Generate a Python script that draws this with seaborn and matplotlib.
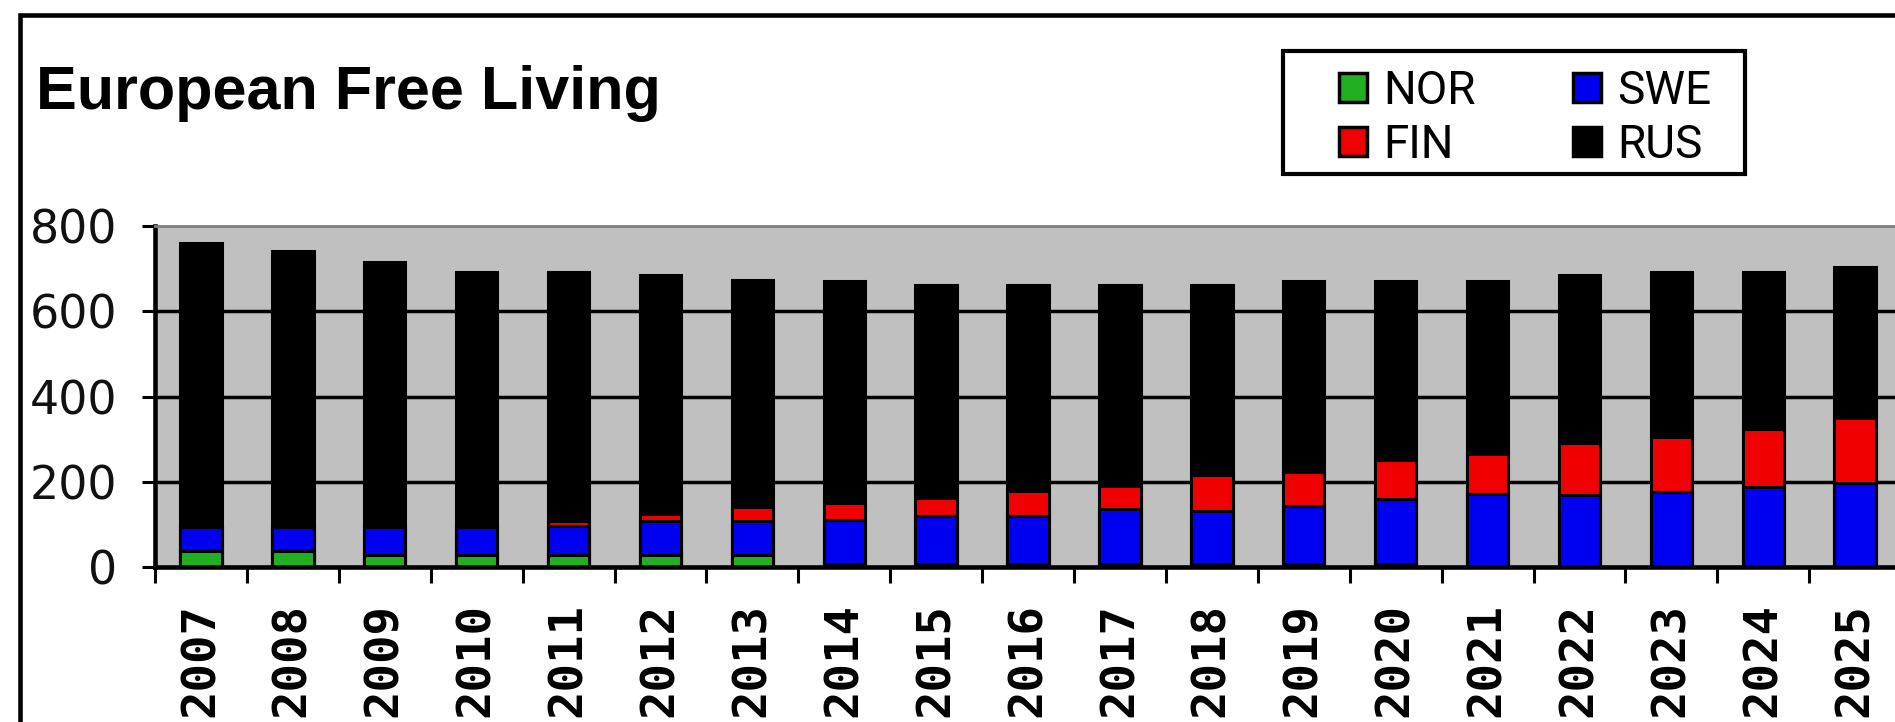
import numpy as np
import matplotlib
matplotlib.use("Agg")
import matplotlib.pyplot as plt
from matplotlib.patches import Patch, Rectangle
import seaborn as sns

# Population by country, stacked per year
years = [str(y) for y in range(2007, 2026)]
nor = [38, 38, 28, 28, 28, 28, 28, 6, 6, 6, 6, 6, 6, 6, 2, 2, 2, 2, 2]
swe = [56, 56, 66, 66, 69, 80, 80, 104, 113, 113, 130, 125, 136, 153, 169, 166, 173, 185, 195]
fin = [0, 0, 0, 0, 10, 16, 32, 41, 42, 59, 55, 84, 80, 91, 94, 124, 130, 136, 153]
rus = [666, 647, 622, 598, 585, 562, 534, 521, 500, 483, 470, 446, 450, 421, 406, 393, 387, 369, 354]

series_colors = {"NOR": "#22B022", "SWE": "#0000F0", "FIN": "#F00000", "RUS": "#000000"}
y_ticks = [0, 200, 400, 600, 800]

W, H = 1895, 722
fig = plt.figure(figsize=(W / 100, H / 100), dpi=100)
fig.patch.set_facecolor("white")

ax = fig.add_axes([155 / W, 1 - 567 / H, 19 * 91.9 / W, (567 - 226) / H])
ax.set_facecolor("#C0C0C0")

# Stacked bars drawn as overlapping cumulative totals, tallest first
cum_nor = np.array(nor)
cum_swe = cum_nor + np.array(swe)
cum_fin = cum_swe + np.array(fin)
cum_rus = cum_fin + np.array(rus)
layers = [("RUS", cum_rus), ("FIN", cum_fin), ("SWE", cum_swe), ("NOR", cum_nor)]
bar_w = 0.45
for name, vals in layers:
    sns.barplot(x=years, y=vals, order=years, color=series_colors[name], saturation=1,
                width=bar_w, edgecolor="black", linewidth=2.2, errorbar=None, ax=ax)

ax.set_xlim(-0.5, len(years) - 0.5)
ax.set_ylim(0, 800)
ax.set_xlabel("")
ax.set_ylabel("")

# Category ticks sit between bars; labels sit under bar centres
ax.set_xticks(np.arange(-0.5, len(years), 1.0))
ax.set_xticklabels([])
ax.set_xticks(np.arange(len(years)), minor=True)
ax.set_xticklabels(years, minor=True, rotation=90, fontfamily="DejaVu Sans Mono",
                   fontweight="bold", fontsize=34, color="black")
ax.tick_params(axis="x", which="major", length=11.5, width=2.2, direction="out", color="black")
ax.tick_params(axis="x", which="minor", length=0, pad=26)

ax.set_yticks(y_ticks)
ax.set_yticklabels([str(v) for v in y_ticks], fontfamily="DejaVu Sans", fontsize=33, color="#111111")
ax.tick_params(axis="y", length=9.4, width=2.2, pad=18, direction="out", color="black")

ax.set_axisbelow(True)
ax.yaxis.grid(True, color="black", linewidth=2.5)
ax.xaxis.grid(False)
for gl, v in zip(ax.get_ygridlines(), y_ticks):
    if v in (0, 800):
        gl.set_visible(False)

ax.spines["left"].set_color("black")
ax.spines["left"].set_linewidth(3.3)
ax.spines["bottom"].set_color("black")
ax.spines["bottom"].set_linewidth(3.3)
ax.spines["top"].set_color("#7F7F7F")
ax.spines["top"].set_linewidth(2.0)
ax.spines["right"].set_visible(False)

# Title
fig.text(36 / W, 1 - 109 / H, "European Free Living", fontfamily="Liberation Sans",
         fontweight="bold", fontsize=44, ha="left", va="baseline", color="black")

# Legend in two columns inside a framed box
legend_font = dict(family="Roboto", size=33)
def handles_for(names):
    return [Patch(facecolor=series_colors[n], edgecolor="black", linewidth=2.5, label=n) for n in names]

leg_kw = dict(loc="upper left", frameon=False, borderpad=0, borderaxespad=0,
              handlelength=0.6, handleheight=0.6, handletextpad=0.36,
              labelspacing=0.22, prop=legend_font, bbox_transform=fig.transFigure)
leg1 = fig.legend(handles=handles_for(["NOR", "FIN"]), bbox_to_anchor=(1339 / W, 1 - 69 / H), **leg_kw)
leg2 = fig.legend(handles=handles_for(["SWE", "RUS"]), bbox_to_anchor=(1573 / W, 1 - 69 / H), **leg_kw)

fig.add_artist(Rectangle((1283 / W, 1 - 174 / H), (1745 - 1283) / W, (174 - 51) / H,
                         transform=fig.transFigure, fill=False, edgecolor="black", linewidth=3.0))

# Outer chart frame
fig.add_artist(Rectangle((20 / W, -0.2), 2.0, (1 - 15 / H) + 0.2, transform=fig.transFigure,
                         fill=False, edgecolor="black", linewidth=3.3, clip_on=False))

fig.savefig("out.png", dpi=100)
